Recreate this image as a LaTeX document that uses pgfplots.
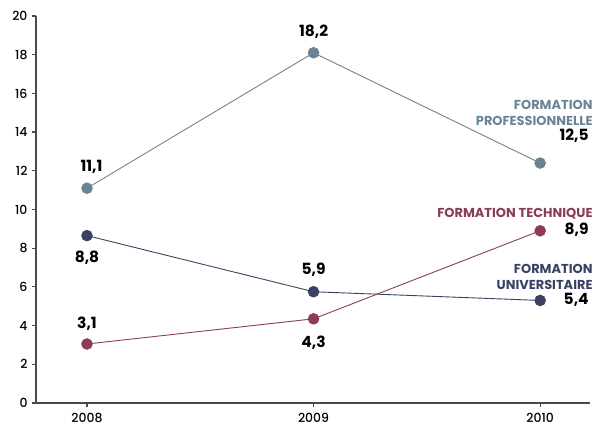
\documentclass[border=0pt]{standalone}
\usepackage{pgfplots}
\pgfplotsset{compat=1.18}
\usepackage{fontspec}
\setmainfont{Poppins}
\newfontfamily\medfont{Poppins Medium}
\definecolor{cpro}{HTML}{6B8494}
\definecolor{cuni}{HTML}{3A4163}
\definecolor{ctec}{HTML}{8A3D55}
\definecolor{caxis}{HTML}{4A4A4A}
\begin{document}
\begin{tikzpicture}
\begin{axis}[
  name=ax,
  scale only axis,
  width=554bp, height=387bp,
  xmin=2007.775, xmax=2010.22,
  ymin=0, ymax=20,
  axis x line=bottom, axis y line=left,
  axis line style={-, caxis, line width=1.6bp},
  xtick={2008,2009,2010},
  xticklabels={2008,2009,2010},
  ytick={0,2,...,20},
  tick align=outside,
  major tick length=4bp,
  tick style={caxis, line width=1.2bp},
  /pgf/number format/assume math mode=true,
  ticklabel style={font=\medfont\fontsize{12.5}{14}\selectfont, black},
  yticklabel style={xshift=-1bp},
  xticklabel style={yshift=-3bp},
  clip=false,
  every axis plot/.append style={line width=0.9bp, mark=*, mark size=5.3bp},
]
\addplot[cpro, mark options={fill=cpro, draw=cpro}] coordinates {(2008,11.1) (2009,18.1) (2010,12.4)};
\addplot[cuni, mark options={fill=cuni, draw=cuni}] coordinates {(2008,8.65) (2009,5.75) (2010,5.3)};
\addplot[ctec, mark options={fill=ctec, draw=ctec}] coordinates {(2008,3.05) (2009,4.35) (2010,8.9)};

\tikzset{val/.style={font=\fontsize{15.5}{17}\selectfont\bfseries, text=black, inner sep=0pt},
         cat/.style={font=\fontsize{13}{16}\selectfont\bfseries, inner sep=0pt, align=right, anchor=east}}
\node[val] at (axis cs:2008.02,12.2) {11,1};
\node[val] at (axis cs:2009,19.2) {18,2};
\node[val] at (axis cs:2008.0,7.5) {8,8};
\node[val] at (axis cs:2009,6.9) {5,9};
\node[val] at (axis cs:2008.0,4.1) {3,1};
\node[val] at (axis cs:2009,3.1) {4,3};
\node[val, anchor=east] at (axis cs:2010.215,13.8) {12,5};
\node[val, anchor=east] at (axis cs:2010.215,8.95) {8,9};
\node[val, anchor=east] at (axis cs:2010.215,5.35) {5,4};
\node[cat, text=cpro] at (axis cs:2010.232,15.0) {FORMATION\\PROFESSIONNELLE};
\node[cat, text=ctec] at (axis cs:2010.232,9.8) {FORMATION TECHNIQUE};
\node[cat, text=cuni] at (axis cs:2010.232,6.5) {FORMATION\\UNIVERSITAIRE};
\end{axis}
\pgfresetboundingbox
\path ([shift={(-36bp,-26bp)}]ax.south west) rectangle ([shift={(5bp,16bp)}]ax.north east);
\end{tikzpicture}
\end{document}
